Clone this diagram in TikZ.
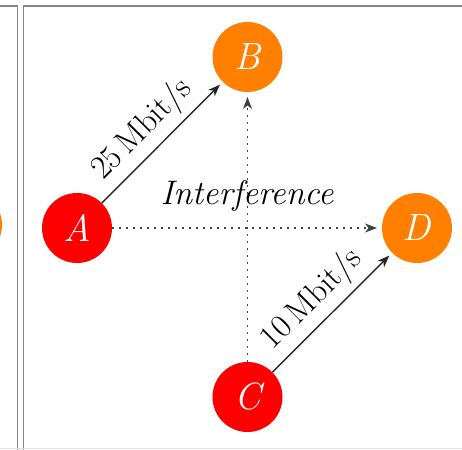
\documentclass[tikz,border=0pt]{standalone}
\usepackage{fontspec}
\usetikzlibrary{arrows.meta}
\begin{document}
\begin{tikzpicture}[x=1pt,y=1pt,
  station/.style={circle,minimum size=70pt,inner sep=0pt,outer sep=0pt,text=white,font=\fontsize{38}{42}\selectfont\itshape},
  redst/.style={station,fill=red},
  orst/.style={station,fill=orange},
  link/.style={draw=black!85,line width=1.4pt,-{Stealth[length=12pt,width=9pt,inset=3.5pt]},shorten >=4pt},
  interf/.style={draw=black!75,line width=1.2pt,dash pattern=on 1.6pt off 5.4pt,-{Stealth[length=12pt,width=9pt,inset=3.5pt]},shorten >=5pt},
  rate/.style={font=\fontsize{33}{36}\selectfont,text=black,sloped,above,inner sep=6pt},
  frame/.style={draw=gray!95,line width=1.7pt}]
\clip (0,0) rectangle (462,449);
% frames
\draw[frame] (-5,443) -- (17.5,443) -- (17.5,-5);
\draw[frame] (470,443) -- (23.5,443) -- (23.5,-5);
\draw[gray!25,line width=1pt] (0,1) -- (462,1);
% partial node from previous panel
\node[orst] (prev) at (-33,224) {};
% stations
\node[redst] (A) at (77,221) {A};
\node[orst] (B) at (247.5,392) {B};
\node[redst] (C) at (247.5,52) {C};
\node[orst] (D) at (417,221) {D};
% interference
\draw[interf] (A) -- (D);
\draw[interf] (C) -- (B);
\node[font=\fontsize{34}{38}\selectfont\itshape] (I) at (247,253) {Interference};
% links
\draw[link] (A) -- node[rate,pos=0.47] {25\,Mbit/s} (B);
\draw[link] (C) -- node[rate,pos=0.47] {10\,Mbit/s} (D);
\end{tikzpicture}
\end{document}
